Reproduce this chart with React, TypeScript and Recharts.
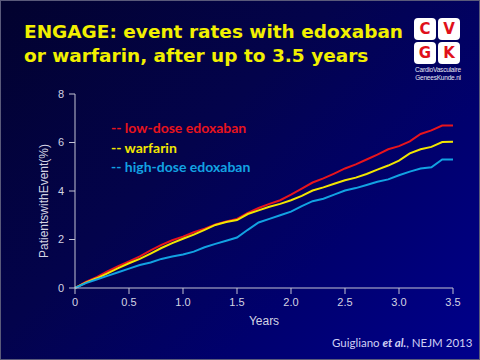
import React from 'react'
import { LineChart, Line, XAxis, YAxis } from 'recharts'

// years since randomisation
const years = [
    0, 0.1, 0.2, 0.3, 0.4, 0.5, 0.6, 0.7, 0.8, 0.9, 1.0, 1.1, 1.2, 1.3, 1.4, 1.5, 1.6, 1.7,
    1.8, 1.9, 2.0, 2.1, 2.2, 2.3, 2.4, 2.5, 2.6, 2.7, 2.8, 2.9, 3.0, 3.1, 3.2, 3.3, 3.4, 3.5,
]

// patients with event (%)
const lowDose = [
    0, 0.25, 0.45, 0.68, 0.9, 1.1, 1.3, 1.55, 1.78, 1.97, 2.12, 2.3, 2.45, 2.62, 2.74, 2.85, 3.1, 3.3,
    3.47, 3.62, 3.85, 4.1, 4.35, 4.52, 4.72, 4.93, 5.1, 5.3, 5.5, 5.72, 5.85, 6.05, 6.35, 6.5, 6.7, 6.7,
]
const warfarin = [
    0, 0.22, 0.4, 0.6, 0.82, 1.02, 1.2, 1.42, 1.65, 1.85, 2.03, 2.2, 2.4, 2.6, 2.72, 2.8, 3.05, 3.2,
    3.35, 3.47, 3.62, 3.8, 4.02, 4.15, 4.3, 4.44, 4.55, 4.7, 4.88, 5.05, 5.25, 5.55, 5.72, 5.82, 6.02, 6.03,
]
const highDose = [
    0, 0.2, 0.35, 0.5, 0.65, 0.8, 0.95, 1.05, 1.2, 1.3, 1.38, 1.5, 1.68, 1.82, 1.95, 2.08, 2.4, 2.7,
    2.85, 3.0, 3.15, 3.38, 3.58, 3.68, 3.85, 4.02, 4.12, 4.25, 4.38, 4.48, 4.65, 4.8, 4.93, 4.98, 5.3, 5.3,
]

const xTicks = [0, 0.5, 1.0, 1.5, 2.0, 2.5, 3.0, 3.5]
const yTicks = [0, 2, 4, 6, 8]

const seriesInfo = [
    { key: 'low', label: 'low-dose edoxaban', color: '#e8141c' },
    { key: 'warf', label: 'warfarin', color: '#f2e600' },
    { key: 'high', label: 'high-dose edoxaban', color: '#12a2e2' },
]

const data = years.map((t, i) => ({ t, low: lowDose[i], warf: warfarin[i], high: highDose[i] }))

const axisColor = '#c4c4d4'
const tickStyle = { fontSize: 11, fill: '#d4d4e2', fontFamily: 'Liberation Sans, Arial, sans-serif' }

// y-axis title, sits a bit left of the ticks and a touch below the plot centre
const YTitle = (props: any) => {
    const { viewBox } = props
    const cx = viewBox.x + viewBox.width - 31
    const cy = viewBox.y + viewBox.height / 2 + 10
    return (
        <text
            x={cx}
            y={cy}
            transform={`rotate(-90 ${cx} ${cy})`}
            textAnchor="middle"
            dominantBaseline="central"
            style={{ ...tickStyle, fontSize: 12 }}
        >
            PatientswithEvent(%)
        </text>
    )
}

const LegendBox = () => (
    <div
        style={{
            position: 'absolute',
            left: 110,
            top: 117,
            fontFamily: 'Lato, "Open Sans", sans-serif',
            fontWeight: 700,
            fontSize: 14,
            lineHeight: '19.5px',
        }}
    >
        {seriesInfo.map(s => (
            <div key={s.key} style={{ color: s.color, whiteSpace: 'nowrap' }}>-- {s.label}</div>
        ))}
    </div>
)

const Logo = () => {
    const cell = (ch: string) => (
        <div
            style={{
                width: 22,
                height: 22,
                background: '#fff',
                borderRadius: 4,
                color: '#e0101a',
                fontWeight: 700,
                fontSize: 15,
                lineHeight: '22px',
                textAlign: 'center',
                fontFamily: '"DejaVu Sans", sans-serif',
            }}
        >
            {ch}
        </div>
    )
    return (
        <div style={{ position: 'absolute', left: 413, top: 17, width: 48 }}>
            <div style={{ display: 'grid', gridTemplateColumns: '22px 22px', gap: 2 }}>
                {cell('C')}
                {cell('V')}
                {cell('G')}
                {cell('K')}
            </div>
            <div
                style={{
                    color: '#e8e8f4',
                    fontSize: 6.5,
                    lineHeight: '8px',
                    marginTop: 2,
                    fontFamily: '"Liberation Sans", sans-serif',
                    textAlign: 'center',
                    letterSpacing: -0.2,
                    whiteSpace: 'nowrap',
                }}
            >
                CardioVasculaire
                <br />
                GeneesKunde.nl
            </div>
        </div>
    )
}

export default function App() {
    return (
        <div
            style={{
                position: 'absolute',
                left: 0,
                top: 0,
                width: 480,
                height: 360,
                boxSizing: 'border-box',
                border: '1px solid #5a5a7a',
                background: 'linear-gradient(135deg, #02022e 0%, #03034c 40%, #00006e 70%, #00008c 100%)',
                overflow: 'hidden',
            }}
        >
            <div
                style={{
                    position: 'absolute',
                    left: 23,
                    top: 19,
                    color: '#f2f000',
                    fontFamily: '"DejaVu Sans", Verdana, sans-serif',
                    fontWeight: 700,
                    fontSize: 18.5,
                    lineHeight: '24px',
                    whiteSpace: 'nowrap',
                }}
            >
                ENGAGE: event rates with edoxaban
                <br />
                or warfarin, after up to 3.5 years
            </div>
            <Logo />

            <div style={{ position: 'absolute', left: 0, top: 0 }}>
                <LineChart width={480} height={360} data={data} margin={{ top: 93, right: 28, bottom: 0, left: 0 }}>
                    <XAxis
                        dataKey="t"
                        type="number"
                        domain={[0, 3.5]}
                        ticks={xTicks}
                        tickFormatter={(v: number) => (v === 0 ? '0' : v.toFixed(1))}
                        stroke={axisColor}
                        tick={tickStyle}
                        tickSize={6}
                        tickMargin={4}
                        height={73}
                        label={{ value: 'Years', position: 'insideTop', offset: 28, style: { ...tickStyle, fontSize: 12 } }}
                    />
                    <YAxis
                        type="number"
                        domain={[0, 8]}
                        ticks={yTicks}
                        stroke={axisColor}
                        tick={tickStyle}
                        tickSize={6}
                        tickMargin={5}
                        width={74}
                        label={<YTitle />}
                    />
                    {seriesInfo.map(s => (
                        <Line
                            key={s.key}
                            dataKey={s.key}
                            type="linear"
                            stroke={s.color}
                            strokeWidth={2}
                            dot={false}
                            isAnimationActive={false}
                        />
                    ))}
                </LineChart>
            </div>
            <LegendBox />

            <div
                style={{
                    position: 'absolute',
                    left: 331,
                    top: 335,
                    color: '#cfcff4',
                    fontSize: 11.5,
                    fontFamily: 'Lato, "Open Sans", sans-serif',
                    whiteSpace: 'nowrap',
                }}
            >
                Guigliano <i style={{ fontWeight: 700 }}>et al.</i>, NEJM 2013
            </div>
        </div>
    )
}
